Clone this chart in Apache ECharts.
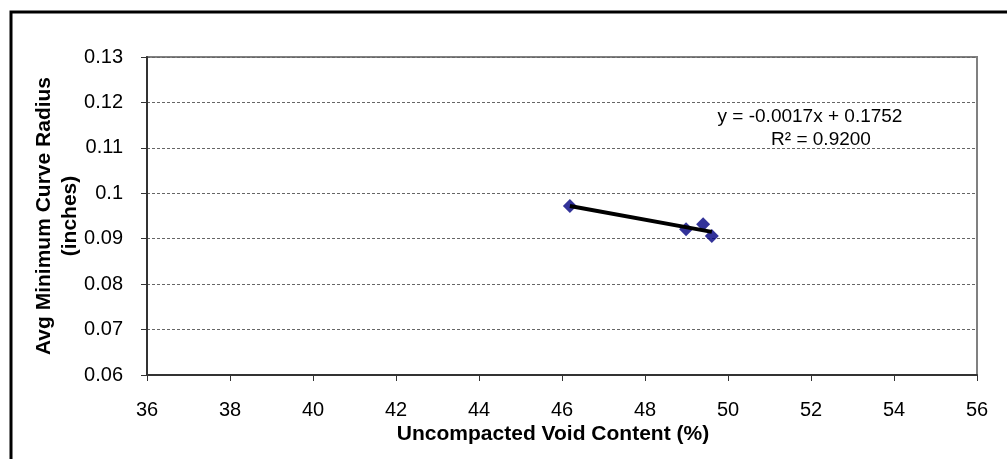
<!DOCTYPE html>
<html>
<head>
<meta charset="utf-8">
<script src="https://cdn.jsdelivr.net/npm/echarts@6/dist/echarts.min.js"></script>
<style>
html,body{margin:0;padding:0;background:#fff;}
#chart{width:1007px;height:459px;}
</style>
</head>
<body>
<div id="chart"></div>
<script>
// Data
const voidContent = [46.19, 48.99, 49.40, 49.61];       // x (%)
const curveRadius = [0.0972, 0.0921, 0.0932, 0.0906];   // y (inches)
const xTicks = {min: 36, max: 56, interval: 2};
const yTicks = {min: 0.06, max: 0.13, interval: 0.01};
const xTitle = 'Uncompacted Void Content (%)';
const yTitle = 'Avg Minimum Curve Radius\n(inches)';
const equationText = 'y = -0.0017x + 0.1752';
const r2Text = 'R\u00b2 = 0.9200';

// least squares trendline from the data
const n = voidContent.length;
const mx = voidContent.reduce((a, b) => a + b, 0) / n;
const my = curveRadius.reduce((a, b) => a + b, 0) / n;
let sxy = 0, sxx = 0;
for (let i = 0; i < n; i++) {
  sxy += (voidContent[i] - mx) * (curveRadius[i] - my);
  sxx += (voidContent[i] - mx) * (voidContent[i] - mx);
}
const slope = sxy / sxx, intercept = my - slope * mx;
const xMin = Math.min(...voidContent), xMax = Math.max(...voidContent);
const trend = [[xMin, slope * xMin + intercept], [xMax, slope * xMax + intercept]];

const points = voidContent.map((x, i) => [x, curveRadius[i]]);
const font = 'Liberation Sans, Arial, sans-serif';

const chart = echarts.init(document.getElementById('chart'), null, {renderer: 'canvas'});
chart.setOption({
  animation: false,
  backgroundColor: '#ffffff',
  grid: {left: 147, right: 30, top: 57, bottom: 84, show: true, borderColor: '#808080', borderWidth: 2},
  xAxis: {
    type: 'value', min: xTicks.min, max: xTicks.max, interval: xTicks.interval,
    axisLine: {show: true, onZero: false, lineStyle: {color: '#333', width: 2}},
    axisTick: {show: true, inside: false, length: 6, lineStyle: {color: '#333', width: 1}},
    axisLabel: {fontFamily: font, fontSize: 20, color: '#000', margin: 25},
    splitLine: {show: false}
  },
  yAxis: {
    type: 'value', min: yTicks.min, max: yTicks.max, interval: yTicks.interval,
    axisLine: {show: true, onZero: false, lineStyle: {color: '#333', width: 2}},
    axisTick: {show: true, inside: false, length: 6, lineStyle: {color: '#333', width: 1}},
    axisLabel: {fontFamily: font, fontSize: 20, color: '#000', margin: 24},
    splitLine: {show: true, lineStyle: {color: '#666', type: [3, 2], width: 1}}
  },
  series: [
    {
      type: 'scatter', data: points, symbol: 'diamond', symbolSize: 14,
      itemStyle: {color: '#000080'}, z: 3
    },
    {
      type: 'line', data: trend, symbol: 'none', lineStyle: {color: '#000', width: 4}, z: 4
    }
  ],
  graphic: [
    {type: 'rect', shape: {x: 11, y: 12, width: 1010, height: 470}, style: {fill: null, stroke: '#000', lineWidth: 3}, silent: true, z: 10},
    {type: 'text', x: 57, y: 216, rotation: Math.PI / 2,
     style: {text: yTitle, font: 'bold 21px ' + font, fill: '#000', align: 'center', verticalAlign: 'middle', lineHeight: 26}},
    {type: 'text', x: 553, y: 424,
     style: {text: xTitle, font: 'bold 21px ' + font, fill: '#000', align: 'center', verticalAlign: 'top'}},
    {type: 'text', x: 810, y: 117, style: {text: equationText, font: '19px ' + font, fill: '#000', align: 'center', verticalAlign: 'middle'}, z: 10},
    {type: 'text', x: 821, y: 140, style: {text: r2Text, font: '19px ' + font, fill: '#000', align: 'center', verticalAlign: 'middle'}, z: 10}
  ]
});
</script>
</body>
</html>
